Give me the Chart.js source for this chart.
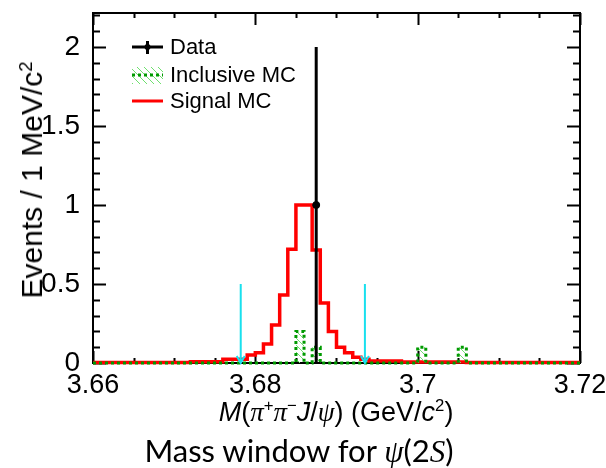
<!DOCTYPE html>
<html>
<head>
<meta charset="utf-8">
<script src="https://cdn.jsdelivr.net/npm/chart.js@4.4.0/dist/chart.umd.min.js"></script>
<style>
  html, body { margin: 0; padding: 0; background: #fff; }
  #wrap { position: relative; width: 606px; height: 468px; overflow: hidden; }
  #myChart { position: absolute; left: 0; top: 0; }
  .txt { position: absolute; white-space: nowrap; color: #000; line-height: 1;
         font-family: "Liberation Sans", Arial, sans-serif; }
  .sym { font-family: "Liberation Serif", "DejaVu Serif", serif; font-style: italic; }
  #ytitle { left: 32px; top: 180px; font-size: 30px;
            transform: translate(-50%, -50%) rotate(-90deg); }
  #xtitle { left: 336px; top: 412px; font-size: 27px; transform: translate(-50%, -50%); }
  #caption { left: 299px; top: 451px; font-size: 31px; font-family: Lato, "Open Sans", sans-serif;
             transform: translate(-50%, -50%); }
  sup { font-size: 62%; vertical-align: 0.55em; line-height: 0; }
</style>
</head>
<body>
<div id="wrap">
  <canvas id="myChart" width="606" height="468"></canvas>
  <div class="txt" id="ytitle">Events / 1 MeV/c<sup>2</sup></div>
  <div class="txt" id="xtitle"><i>M</i>(<span class="sym">π</span><sup>+</sup><span class="sym">π</span><sup>−</sup><i>J</i>/<span class="sym">ψ</span>) (GeV/<i>c</i><sup>2</sup>)</div>
  <div class="txt" id="caption">Mass window for <span class="sym">ψ</span>(2<span class="sym">S</span>)</div>
</div>
<script>
const ctx = document.getElementById('myChart').getContext('2d');

// Axis ticks
const xTickValues = [3.66, 3.68, 3.70, 3.72];
const xTickLabels = ['3.66', '3.68', '3.7', '3.72'];
const yTickValues = [0, 0.5, 1, 1.5, 2];
const yTickLabels = ['0', '0.5', '1', '1.5', '2'];

// Histogram binning (1 MeV bins from 3.66 to 3.72)
const binStart = 3.66;
const binWidth = 0.001;

// Signal MC, one value per bin
const signalMC = [
  0.003, 0.003, 0.003, 0.003, 0.003, 0.003, 0.003, 0.003, 0.003, 0.003,
  0.003, 0.003, 0.008, 0.008, 0.008, 0.008, 0.023, 0.023, 0.023, 0.05,
  0.065, 0.12, 0.24, 0.43, 0.72, 1.0, 1.0, 0.715, 0.38, 0.2,
  0.1, 0.065, 0.036, 0.023, 0.012, 0.012, 0.012, 0.012, 0.006, 0.006,
  0.006, 0.006, 0.006, 0.006, 0.006, 0.006, 0.003, 0.003, 0.003, 0.003,
  0.003, 0.003, 0.003, 0.003, 0.003, 0.003, 0.003, 0.003, 0.003, 0.003
];

// Inclusive MC, one value per bin
const inclusiveMC = [
  0, 0, 0, 0, 0, 0, 0, 0, 0, 0,
  0, 0, 0, 0, 0, 0, 0, 0, 0, 0,
  0, 0, 0, 0, 0, 0.2, 0, 0.1, 0, 0,
  0, 0, 0, 0, 0, 0, 0, 0, 0, 0,
  0.1, 0, 0, 0, 0, 0.1, 0, 0, 0, 0,
  0, 0, 0, 0, 0, 0, 0, 0, 0, 0
];

// Data points (non-empty bins only)
const dataX = [3.6875];
const dataY = [1];
const dataErrLow = [1];
const dataErrHigh = [1];

// psi(2S) mass window limits (arrows)
const windowLimits = [3.6782, 3.6935];
const arrowTop = 0.5;

// turn a per-bin list into step points (lower edges + final upper edge)
function toSteps(values) {
  const pts = values.map((v, i) => ({ x: +(binStart + i * binWidth).toFixed(4), y: v }));
  pts.push({ x: +(binStart + values.length * binWidth).toFixed(4), y: values[values.length - 1] });
  return pts;
}

function makeHatch() {
  const c = document.createElement('canvas');
  c.width = 7; c.height = 7;
  const g = c.getContext('2d');
  g.strokeStyle = '#6fe06f';
  g.lineWidth = 1;
  g.beginPath();
  g.moveTo(-1, -1); g.lineTo(8, 8);
  g.moveTo(-4.5, 2.5); g.lineTo(4.5, 11.5);
  g.moveTo(2.5, -4.5); g.lineTo(11.5, 4.5);
  g.stroke();
  return ctx.createPattern(c, 'repeat');
}
const hatch = makeHatch();

const greenLine = '#009a00';
const cyan = '#19e0ee';

// frame with inward ticks on all four sides (ROOT style)
const frameTicks = {
  id: 'frameTicks',
  beforeDatasetsDraw(chart) {
    const { ctx, chartArea: a, scales: { x, y } } = chart;
    ctx.save();
    ctx.strokeStyle = '#000';
    ctx.lineWidth = 2;
    ctx.strokeRect(a.left, a.top, a.right - a.left, a.bottom - a.top);
    ctx.beginPath();
    for (let i = 0; i <= 12; i++) {
      const v = 3.66 + i * 0.005;
      const major = xTickValues.some(t => Math.abs(t - v) < 1e-6);
      const len = major ? 12 : 5;
      const px = Math.round(x.getPixelForValue(v)) + 0.5;
      ctx.moveTo(px, a.bottom); ctx.lineTo(px, a.bottom - len);
      ctx.moveTo(px, a.top); ctx.lineTo(px, a.top + len);
    }
    for (let i = 0; i <= 22; i++) {
      const v = i * 0.1;
      const major = yTickValues.some(t => Math.abs(t - v) < 1e-6);
      const len = major ? 13 : 7;
      const py = Math.round(y.getPixelForValue(v)) + 0.5;
      ctx.moveTo(a.left, py); ctx.lineTo(a.left + len, py);
      ctx.moveTo(a.right, py); ctx.lineTo(a.right - len, py);
    }
    ctx.stroke();
    ctx.restore();
  }
};

// error bars, window arrows and legend
const overlay = {
  id: 'overlay',
  afterDatasetsDraw(chart) {
    const { ctx, chartArea: a, scales: { x, y } } = chart;
    ctx.save();

    // data error bars
    ctx.strokeStyle = '#000';
    ctx.lineWidth = 3;
    dataX.forEach((v, i) => {
      const px = x.getPixelForValue(v);
      ctx.beginPath();
      ctx.moveTo(px, y.getPixelForValue(dataY[i] - dataErrLow[i]));
      ctx.lineTo(px, y.getPixelForValue(dataY[i] + dataErrHigh[i]));
      ctx.stroke();
    });

    // arrows
    ctx.strokeStyle = cyan;
    ctx.lineWidth = 2;
    windowLimits.forEach(v => {
      const px = x.getPixelForValue(v);
      const y0 = y.getPixelForValue(0);
      ctx.beginPath();
      ctx.moveTo(px, y.getPixelForValue(arrowTop));
      ctx.lineTo(px, y0);
      ctx.moveTo(px - 4, y0 - 7);
      ctx.lineTo(px, y0);
      ctx.lineTo(px + 4, y0 - 7);
      ctx.stroke();
    });

    // legend
    const x0 = a.left + 39, x1 = a.left + 70, tx = a.left + 77;
    const rows = [a.top + 34, a.top + 62, a.top + 88];
    ctx.font = '22px "Liberation Sans", Arial, sans-serif';
    ctx.fillStyle = '#000';
    ctx.textBaseline = 'middle';
    ctx.textAlign = 'left';
    chart.data.datasets.forEach((ds, i) => ctx.fillText(ds.label, tx, rows[i] + 1));

    // Data symbol
    ctx.strokeStyle = '#000';
    ctx.lineWidth = 3;
    ctx.beginPath();
    ctx.moveTo(x0, rows[0]); ctx.lineTo(x1, rows[0]);
    ctx.moveTo((x0 + x1) / 2, rows[0] - 6); ctx.lineTo((x0 + x1) / 2, rows[0] + 7);
    ctx.stroke();
    ctx.beginPath();
    ctx.arc((x0 + x1) / 2, rows[0], 3, 0, Math.PI * 2);
    ctx.fillStyle = '#000';
    ctx.fill();

    // Inclusive MC symbol
    ctx.fillStyle = hatch;
    ctx.fillRect(x0, rows[1] - 8, x1 - x0, 17);
    ctx.strokeStyle = greenLine;
    ctx.setLineDash([3, 3]);
    ctx.beginPath();
    ctx.moveTo(x0, rows[1]); ctx.lineTo(x1, rows[1]);
    ctx.stroke();
    ctx.setLineDash([]);

    // Signal MC symbol
    ctx.strokeStyle = '#ff0000';
    ctx.beginPath();
    ctx.moveTo(x0, rows[2]); ctx.lineTo(x1, rows[2]);
    ctx.stroke();

    ctx.restore();
  }
};

const myChart = new Chart(ctx, {
  type: 'line',
  data: {
    datasets: [
      {
        label: 'Data',
        data: dataX.map((v, i) => ({ x: v, y: dataY[i] })),
        showLine: false,
        pointRadius: 3.5,
        pointBackgroundColor: '#000',
        pointBorderColor: '#000',
        clip: false
      },
      {
        label: 'Inclusive MC',
        data: toSteps(inclusiveMC),
        stepped: 'before',
        borderColor: greenLine,
        borderWidth: 3,
        borderDash: [3, 3],
        backgroundColor: hatch,
        fill: 'origin',
        pointRadius: 0,
        clip: false
      },
      {
        label: 'Signal MC',
        data: toSteps(signalMC),
        stepped: 'before',
        borderColor: '#ff0000',
        borderWidth: 3.5,
        fill: false,
        pointRadius: 0,
        clip: false
      }
    ]
  },
  options: {
    responsive: false,
    animation: false,
    devicePixelRatio: 1,
    layout: { padding: { top: 13, right: 26, left: 0, bottom: 0 } },
    scales: {
      x: {
        type: 'linear',
        min: 3.66,
        max: 3.72,
        grid: { display: false },
        border: { display: false },
        afterBuildTicks: (s) => { s.ticks = xTickValues.map(v => ({ value: v })); },
        afterFit: (s) => { s.height = 105; s.paddingLeft = 0; s.paddingRight = 0; },
        ticks: {
          autoSkip: false,
          maxRotation: 0,
          padding: -2,
          color: '#000',
          font: { family: '"Liberation Sans", Arial, sans-serif', size: 27 },
          callback: (v) => xTickLabels[xTickValues.findIndex(t => Math.abs(t - v) < 1e-6)]
        }
      },
      y: {
        min: 0,
        max: 2.215,
        grid: { display: false },
        border: { display: false },
        afterBuildTicks: (s) => { s.ticks = yTickValues.map(v => ({ value: v })); },
        afterFit: (s) => { s.width = 93; s.paddingTop = 0; s.paddingBottom = 0; },
        ticks: {
          padding: 5,
          color: '#000',
          font: { family: '"Liberation Sans", Arial, sans-serif', size: 28 },
          callback: (v) => yTickLabels[yTickValues.findIndex(t => Math.abs(t - v) < 1e-6)]
        }
      }
    },
    plugins: {
      legend: { display: false },
      tooltip: { enabled: false }
    }
  },
  plugins: [frameTicks, overlay]
});
</script>
</body>
</html>
